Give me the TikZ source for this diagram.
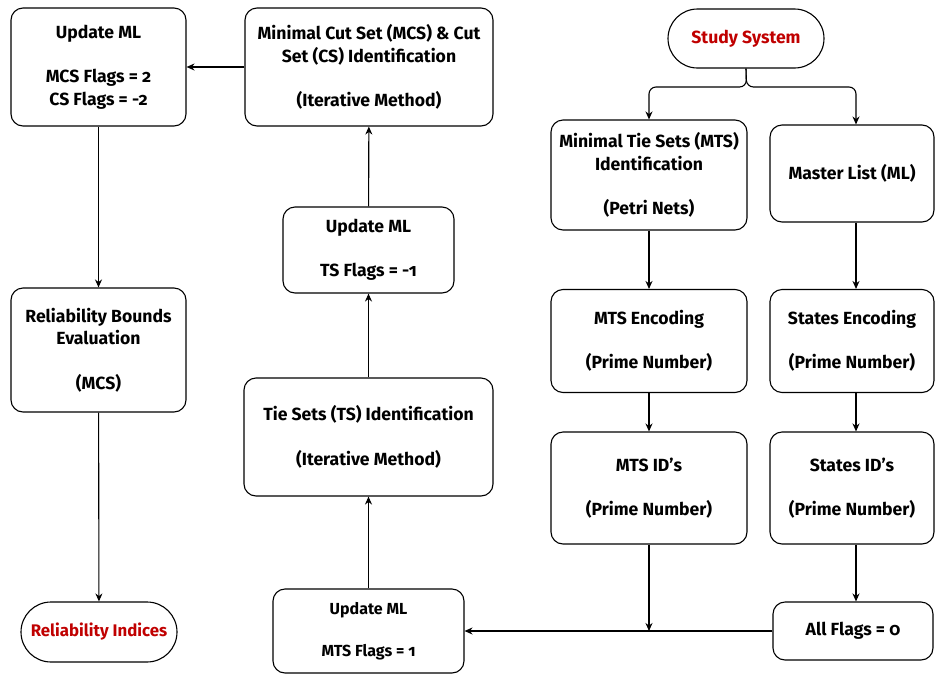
\documentclass[tikz,border=0pt]{standalone}
\usepackage{fontspec}
\setmainfont[Numbers=OldStyle]{Fira Sans}
\usetikzlibrary{arrows.meta,shapes.misc}
\definecolor{redtxt}{RGB}{192,0,0}
\begin{document}
\begin{tikzpicture}[x=1pt,y=-1pt,
  box/.style={draw,line width=1.1pt,rounded corners=12pt,inner sep=0pt,align=center,
    font=\fontsize{17.6}{22.5}\selectfont\bfseries},
  pill/.style={draw,line width=1.1pt,rounded rectangle,inner sep=0pt,align=center,
    text=redtxt,font=\fontsize{17.6}{22.5}\selectfont\bfseries},
  arr/.style={line width=1.1pt,-{Stealth[length=8pt,width=7pt]}},
  ln/.style={line width=1.1pt}]
\useasboundingbox (0,0) rectangle (935,673);
% left column
\node[box,minimum width=175pt,minimum height=118pt] (upd1) at (98.5,67) {Update ML\\[22pt]MCS Flags = 2\\CS Flags = -2};
\node[box,minimum width=175pt,minimum height=124pt] (relb) at (98.5,350) {Reliability Bounds\\Evaluation\\[22pt](MCS)};
\node[pill,minimum width=156pt,minimum height=60pt,font=\fontsize{16.8}{22}\selectfont\bfseries] (reli) at (99,632) {Reliability Indices};
% middle column
\node[box,minimum width=248pt,minimum height=118pt] (mcs) at (369,67) {Minimal Cut Set (MCS) \& Cut\\Set (CS) Identification\\[22pt](Iterative Method)};
\node[box,minimum width=171pt,minimum height=86pt] (upd2) at (368.5,250) {Update ML\\[22pt]TS Flags = -1};
\node[box,minimum width=249pt,minimum height=118pt] (ts) at (368.5,437) {Tie Sets (TS) Identification\\[22pt](Iterative Method)};
\node[box,minimum width=191pt,minimum height=84pt,font=\fontsize{16}{20}\selectfont\bfseries] (upd3) at (368.5,631) {Update ML\\[22pt]MTS Flags = 1};
% right columns
\node[pill,minimum width=156pt,minimum height=59pt] (study) at (746,38.5) {Study System};
\node[box,minimum width=196pt,minimum height=110pt] (mtsi) at (649,175) {Minimal Tie Sets (MTS)\\Identification\\[22pt](Petri Nets)};
\node[box,minimum width=164pt,minimum height=97pt] (ml) at (852,173.5) {Master List (ML)};
\node[box,minimum width=196pt,minimum height=103pt] (mtse) at (649,341) {MTS Encoding\\[22pt](Prime Number)};
\node[box,minimum width=164pt,minimum height=103pt] (ste) at (852,341) {States Encoding\\[22pt](Prime Number)};
\node[box,minimum width=196pt,minimum height=112pt] (mtsid) at (649,488) {MTS ID's\\[22pt](Prime Number)};
\node[box,minimum width=164pt,minimum height=112pt] (stid) at (852,488) {States ID's\\[22pt](Prime Number)};
\node[box,minimum width=160pt,minimum height=58pt] (all) at (853,631) {All Flags = 0};
% connectors
\coordinate (split) at (746.5,87);
\coordinate (meet) at (649,631);
\draw[arr,rounded corners=7pt] (study.south) -- (split) -| (mtsi.north);
\draw[arr,rounded corners=7pt] (study.south) -- (split) -| (ml.north -| 856,0);
\draw[arr] (mtsi) -- (mtse);
\draw[arr] (ml.south -| 856,0) -- (ste.north -| 856,0);
\draw[arr] (mtse) -- (mtsid);
\draw[arr] (ste.south -| 856,0) -- (stid.north -| 856,0);
\draw[arr] (stid.south -| 856,0) -- (all.north -| 856,0);
\draw[arr] (mtsid.south) -- (meet);
\draw[arr] (all.west) -- (upd3.east);
\draw[arr] (upd3) -- (ts);
\draw[arr] (ts) -- (upd2);
\draw[arr] (upd2) -- (mcs);
\draw[arr] (mcs.west) -- (upd1.east);
\draw[arr] (upd1) -- (relb);
\draw[arr] (relb) -- (reli);
\end{tikzpicture}
\end{document}
